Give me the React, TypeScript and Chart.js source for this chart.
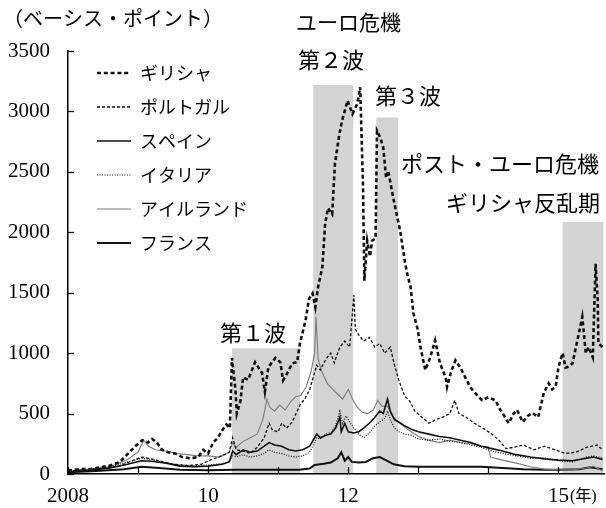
import React, { useEffect, useRef } from 'react';
import { Chart, registerables } from 'chart.js';
Chart.register(...registerables);

// ---------- DATA ----------
const seriesNames = ['ギリシャ', 'ポルトガル', 'スペイン', 'イタリア', 'アイルランド', 'フランス'];

const greeceDates = [2008.00, 2008.17, 2008.31, 2008.46, 2008.60, 2008.74, 2008.86, 2008.96, 2009.06, 2009.14, 2009.20, 2009.27, 2009.34, 2009.43, 2009.53, 2009.63, 2009.74, 2009.86, 2009.93, 2010.00, 2010.07, 2010.14, 2010.20, 2010.26, 2010.31, 2010.34, 2010.39, 2010.41, 2010.46, 2010.50, 2010.57, 2010.67, 2010.77, 2010.81, 2010.86, 2010.96, 2011.03, 2011.07, 2011.13, 2011.20, 2011.27, 2011.31, 2011.39, 2011.44, 2011.49, 2011.53, 2011.57, 2011.63, 2011.67, 2011.71, 2011.77, 2011.81, 2011.87, 2011.91, 2011.99, 2012.06, 2012.13, 2012.17, 2012.21, 2012.23, 2012.27, 2012.31, 2012.34, 2012.39, 2012.41, 2012.46, 2012.50, 2012.54, 2012.57, 2012.64, 2012.74, 2012.81, 2012.84, 2012.89, 2012.93, 2012.99, 2013.03, 2013.10, 2013.17, 2013.24, 2013.31, 2013.39, 2013.41, 2013.47, 2013.53, 2013.60, 2013.67, 2013.74, 2013.81, 2013.91, 2014.00, 2014.10, 2014.17, 2014.24, 2014.29, 2014.36, 2014.41, 2014.49, 2014.56, 2014.63, 2014.71, 2014.79, 2014.86, 2014.91, 2014.96, 2015.00, 2015.06, 2015.10, 2015.13, 2015.20, 2015.27, 2015.34, 2015.39, 2015.43, 2015.49, 2015.53, 2015.56, 2015.57, 2015.63];
const greeceValues = [30, 40, 40, 55, 70, 100, 170, 230, 280, 260, 290, 260, 200, 180, 170, 140, 130, 140, 200, 170, 260, 300, 360, 410, 380, 960, 700, 500, 600, 800, 780, 925, 835, 680, 885, 960, 925, 775, 835, 915, 925, 1080, 1270, 1450, 1495, 1380, 1550, 1710, 2070, 2200, 2150, 2570, 2800, 2920, 3090, 2980, 3065, 3200, 2400, 1600, 1930, 1800, 1930, 1950, 2840, 2780, 2700, 2450, 2510, 2290, 2015, 1750, 1660, 1545, 1330, 1200, 1050, 860, 965, 1105, 915, 800, 720, 850, 940, 880, 800, 720, 670, 610, 635, 610, 530, 470, 420, 500, 530, 430, 480, 505, 470, 670, 750, 700, 720, 885, 1000, 880, 885, 915, 1105, 1300, 1000, 1050, 965, 1740, 1440, 1080, 1050];

const portugalDates = [2008.00, 2008.25, 2008.50, 2008.75, 2008.92, 2009.05, 2009.15, 2009.30, 2009.50, 2009.70, 2009.90, 2010.05, 2010.20, 2010.30, 2010.35, 2010.40, 2010.50, 2010.60, 2010.70, 2010.80, 2010.87, 2010.92, 2011.00, 2011.05, 2011.12, 2011.20, 2011.27, 2011.32, 2011.38, 2011.45, 2011.50, 2011.55, 2011.60, 2011.68, 2011.75, 2011.80, 2011.88, 2011.95, 2012.02, 2012.08, 2012.10, 2012.15, 2012.22, 2012.30, 2012.38, 2012.45, 2012.52, 2012.60, 2012.66, 2012.72, 2012.80, 2012.88, 2012.95, 2013.05, 2013.15, 2013.25, 2013.35, 2013.45, 2013.52, 2013.58, 2013.68, 2013.80, 2013.92, 2014.05, 2014.15, 2014.25, 2014.35, 2014.50, 2014.65, 2014.80, 2014.95, 2015.10, 2015.25, 2015.40, 2015.55, 2015.63];
const portugalValues = [25, 35, 45, 70, 110, 140, 130, 110, 80, 70, 80, 120, 150, 180, 300, 200, 190, 170, 220, 300, 420, 360, 350, 420, 380, 430, 520, 580, 620, 700, 800, 900, 860, 950, 1000, 920, 1050, 1100, 1050, 1480, 1200, 1150, 1100, 1130, 1050, 1080, 1000, 1050, 900, 780, 650, 600, 520, 470, 420, 450, 470, 500, 610, 500, 470, 420, 380, 330, 280, 210, 220, 240, 200, 230, 200, 170, 180, 220, 240, 200];

const spainDates = [2008.00, 2008.30, 2008.60, 2008.85, 2009.05, 2009.20, 2009.40, 2009.60, 2009.80, 2010.00, 2010.20, 2010.30, 2010.35, 2010.40, 2010.50, 2010.60, 2010.70, 2010.80, 2010.87, 2010.95, 2011.05, 2011.15, 2011.25, 2011.35, 2011.45, 2011.55, 2011.60, 2011.68, 2011.75, 2011.82, 2011.88, 2011.90, 2011.95, 2012.00, 2012.08, 2012.15, 2012.22, 2012.30, 2012.38, 2012.45, 2012.50, 2012.56, 2012.60, 2012.66, 2012.72, 2012.80, 2012.90, 2013.00, 2013.15, 2013.30, 2013.45, 2013.60, 2013.75, 2013.90, 2014.05, 2014.20, 2014.40, 2014.60, 2014.80, 2015.00, 2015.20, 2015.40, 2015.50, 2015.63];
const spainValues = [15, 30, 50, 80, 110, 105, 90, 65, 60, 65, 80, 100, 190, 160, 200, 180, 190, 230, 260, 240, 230, 200, 190, 200, 230, 330, 300, 320, 330, 380, 470, 350, 420, 350, 340, 350, 380, 420, 470, 520, 500, 620, 520, 450, 430, 400, 370, 350, 330, 310, 300, 280, 260, 230, 210, 190, 160, 140, 125, 115, 110, 130, 140, 120];

const italyDates = [2008.00, 2008.30, 2008.60, 2008.85, 2009.05, 2009.20, 2009.40, 2009.60, 2009.80, 2010.00, 2010.20, 2010.30, 2010.35, 2010.40, 2010.50, 2010.60, 2010.70, 2010.80, 2010.87, 2010.95, 2011.05, 2011.15, 2011.25, 2011.35, 2011.45, 2011.55, 2011.60, 2011.68, 2011.75, 2011.82, 2011.88, 2011.92, 2011.97, 2012.02, 2012.08, 2012.15, 2012.22, 2012.30, 2012.38, 2012.45, 2012.52, 2012.56, 2012.60, 2012.66, 2012.72, 2012.80, 2012.90, 2013.00, 2013.15, 2013.30, 2013.45, 2013.60, 2013.75, 2013.90, 2014.05, 2014.20, 2014.40, 2014.60, 2014.80, 2015.00, 2015.20, 2015.40, 2015.50, 2015.63];
const italyValues = [25, 35, 60, 100, 130, 120, 90, 75, 70, 75, 85, 100, 150, 140, 160, 140, 150, 170, 200, 180, 170, 150, 140, 150, 180, 300, 290, 330, 340, 400, 520, 420, 480, 430, 380, 330, 300, 340, 400, 430, 460, 520, 450, 380, 350, 330, 320, 290, 280, 290, 270, 260, 240, 220, 190, 170, 150, 130, 135, 110, 100, 140, 150, 130];

const irelandDates = [2008.00, 2008.30, 2008.60, 2008.85, 2009.00, 2009.08, 2009.15, 2009.25, 2009.40, 2009.55, 2009.70, 2009.85, 2010.00, 2010.15, 2010.30, 2010.35, 2010.40, 2010.50, 2010.60, 2010.70, 2010.78, 2010.84, 2010.88, 2010.95, 2011.02, 2011.10, 2011.18, 2011.25, 2011.32, 2011.40, 2011.47, 2011.52, 2011.54, 2011.57, 2011.62, 2011.70, 2011.78, 2011.85, 2011.92, 2012.00, 2012.06, 2012.12, 2012.20, 2012.28, 2012.36, 2012.42, 2012.48, 2012.56, 2012.64, 2012.72, 2012.80, 2012.90, 2013.00, 2013.15, 2013.30, 2013.45, 2013.60, 2013.75, 2013.90, 2014.00, 2014.03, 2014.20, 2014.40, 2014.60, 2014.80, 2015.00, 2015.20, 2015.40, 2015.50, 2015.63];
const irelandValues = [25, 40, 60, 120, 180, 280, 230, 200, 190, 170, 160, 150, 150, 140, 180, 260, 220, 270, 300, 330, 450, 620, 550, 520, 570, 530, 600, 640, 650, 720, 850, 1000, 1300, 950, 850, 750, 700, 660, 620, 700, 620, 560, 510, 500, 530, 610, 560, 560, 470, 430, 390, 350, 310, 280, 260, 280, 260, 250, 230, 225, 140, 115, 90, 60, 40, 35, 35, 50, 65, 25];

const franceDates = [2008.00, 2008.40, 2008.80, 2009.05, 2009.30, 2009.60, 2010.00, 2010.40, 2010.90, 2011.30, 2011.45, 2011.52, 2011.65, 2011.75, 2011.85, 2011.90, 2011.95, 2012.00, 2012.05, 2012.15, 2012.25, 2012.35, 2012.45, 2012.55, 2012.65, 2012.80, 2013.00, 2013.30, 2013.60, 2013.90, 2014.20, 2014.50, 2014.80, 2015.00, 2015.30, 2015.45, 2015.63];
const franceValues = [15, 25, 40, 60, 50, 35, 30, 35, 35, 35, 45, 75, 85, 95, 130, 180, 110, 140, 100, 95, 100, 130, 140, 110, 80, 65, 60, 60, 60, 60, 50, 40, 35, 35, 40, 55, 40];

const yTicks = [0, 500, 1000, 1500, 2000, 2500, 3000, 3500];
const xTickYears = [2008, 2009, 2010, 2011, 2012, 2013, 2014, 2015];
const xTickLabels = ['2008', '', '10', '', '12', '', '', '15'];
const xUnitLabel = '(年)';
const yUnitLabel = '（ベーシス・ポイント）';

// shaded periods: start year, end year, height (bp)
const shadeStarts = [2010.34, 2011.50, 2012.40, 2015.06];
const shadeEnds = [2011.31, 2012.07, 2012.71, 2015.64];
const shadeTops = [1040, 3220, 2950, 2085];

const titleText = 'ユーロ危機';
const waveTexts = ['第１波', '第２波', '第３波'];
const postText = 'ポスト・ユーロ危機';
const rebelText = 'ギリシャ反乱期';

const toXY = (d: number[], v: number[]) => d.map((x, i) => ({ x, y: v[i] }));

const CJK = '"Noto Sans CJK JP", sans-serif';
const SERIF = '"Liberation Serif", "DejaVu Serif", serif';

const decorPlugin = {
  id: 'decor',
  beforeDatasetsDraw(chart: any) {
    const { ctx, scales } = chart;
    const x = scales.x, y = scales.y;
    ctx.save();
    ctx.fillStyle = '#d3d3d3';
    shadeStarts.forEach((s, i) => {
      const x0 = x.getPixelForValue(s);
      const x1 = x.getPixelForValue(shadeEnds[i]);
      const yt = y.getPixelForValue(shadeTops[i]);
      const yb = y.getPixelForValue(0) - 1;
      ctx.fillRect(x0, yt, x1 - x0, yb - yt);
    });
    ctx.restore();
  },
  afterDraw(chart: any) {
    const { ctx, scales, chartArea } = chart;
    const x = scales.x, y = scales.y;
    ctx.save();
    // inward tick marks
    ctx.strokeStyle = '#000';
    ctx.lineWidth = 1.3;
    ctx.setLineDash([]);
    yTicks.forEach((v) => {
      const py = Math.round(y.getPixelForValue(v)) + 0.5;
      ctx.beginPath();
      ctx.moveTo(chartArea.left, py);
      ctx.lineTo(chartArea.left + 6, py);
      ctx.stroke();
    });
    xTickYears.forEach((v) => {
      const px = Math.round(x.getPixelForValue(v)) + 0.5;
      ctx.beginPath();
      ctx.moveTo(px, chartArea.bottom);
      ctx.lineTo(px, chartArea.bottom - 7);
      ctx.stroke();
    });
    // x labels
    ctx.fillStyle = '#000';
    ctx.font = `21px ${SERIF}`;
    ctx.textAlign = 'center';
    ctx.textBaseline = 'middle';
    let lastRight = 0;
    xTickYears.forEach((v, i) => {
      const lab = xTickLabels[i];
      if (!lab) return;
      const px = x.getPixelForValue(v);
      ctx.fillText(lab, px, 496);
      lastRight = px + ctx.measureText(lab).width / 2;
    });
    ctx.font = `16px ${SERIF}, ${CJK}`;
    ctx.textAlign = 'left';
    ctx.fillText(xUnitLabel, lastRight + 1, 497);

    // y unit
    ctx.font = `20px ${CJK}`;
    ctx.textAlign = 'left';
    ctx.fillText(yUnitLabel, 3, 18);

    // legend
    const ds = chart.data.datasets;
    ds.forEach((d: any, i: number) => {
      const ly = 73 + i * 34;
      ctx.save();
      ctx.strokeStyle = d.borderColor;
      ctx.lineWidth = d.borderWidth;
      ctx.setLineDash(d.borderDash || []);
      ctx.beginPath();
      ctx.moveTo(97, ly);
      ctx.lineTo(131, ly);
      ctx.stroke();
      ctx.restore();
      ctx.font = `18px ${CJK}`;
      ctx.fillStyle = '#000';
      ctx.textAlign = 'left';
      ctx.textBaseline = 'middle';
      ctx.fillText(d.label, 140, ly);
    });

    // annotations
    ctx.fillStyle = '#000';
    ctx.textAlign = 'left';
    ctx.textBaseline = 'middle';
    ctx.font = `21px ${CJK}`;
    ctx.fillText(titleText, 296, 22);
    ctx.font = `22px ${CJK}`;
    ctx.fillText(waveTexts[0], 220, 333);
    ctx.fillText(waveTexts[1], 298, 60);
    ctx.fillText(waveTexts[2], 375, 96);
    ctx.fillText(postText, 401, 164);
    ctx.fillText(rebelText, 446, 203);
    ctx.restore();
  },
};

export default function App() {
  const ref = useRef<HTMLCanvasElement | null>(null);
  useEffect(() => {
    if (!ref.current) return;
    const chart = new Chart(ref.current, {
      type: 'line',
      data: {
        datasets: [
          { label: seriesNames[0], data: toXY(greeceDates, greeceValues), borderColor: '#111', borderWidth: 2.6, borderDash: [4, 2.8], pointRadius: 0, tension: 0, order: 1 },
          { label: seriesNames[1], data: toXY(portugalDates, portugalValues), borderColor: '#111', borderWidth: 1.3, borderDash: [3, 2], pointRadius: 0, tension: 0, order: 2 },
          { label: seriesNames[2], data: toXY(spainDates, spainValues), borderColor: '#111', borderWidth: 1.6, pointRadius: 0, tension: 0, order: 3 },
          { label: seriesNames[3], data: toXY(italyDates, italyValues), borderColor: '#111', borderWidth: 1.2, borderDash: [1, 1.5], pointRadius: 0, tension: 0, order: 4 },
          { label: seriesNames[4], data: toXY(irelandDates, irelandValues), borderColor: '#7a7a7a', borderWidth: 1.1, pointRadius: 0, tension: 0, order: 5 },
          { label: seriesNames[5], data: toXY(franceDates, franceValues), borderColor: '#111', borderWidth: 2, pointRadius: 0, tension: 0, order: 6 },
        ],
      } as any,
      options: {
        responsive: false,
        animation: false,
        devicePixelRatio: 1,
        layout: { padding: { top: 51, right: 2, left: 0, bottom: 0 } },
        plugins: { legend: { display: false }, tooltip: { enabled: false } },
        scales: {
          x: {
            type: 'linear',
            min: 2008,
            max: 2015.65,
            grid: { display: false },
            border: { display: true, color: '#000', width: 1.5 },
            ticks: { display: false },
            afterBuildTicks: (s: any) => { s.ticks = xTickYears.map((v) => ({ value: v })); },
            afterFit: (s: any) => { s.height = 34; },
          },
          y: {
            type: 'linear',
            min: 0,
            max: 3500,
            grid: { display: false },
            border: { display: true, color: '#000', width: 1.5 },
            ticks: { color: '#000', font: { family: 'Liberation Serif', size: 21 }, padding: 10, callback: (v: any) => String(v) },
            afterBuildTicks: (s: any) => { s.ticks = yTicks.map((v) => ({ value: v })); },
            afterFit: (s: any) => { s.width = 68; },
          },
        },
      } as any,
      plugins: [decorPlugin],
    });
    return () => chart.destroy();
  }, []);
  return (
    <div style={{ position: 'fixed', left: 0, top: 0, width: 606, height: 508, background: '#fff' }}>
      <canvas ref={ref} width={606} height={508} />
    </div>
  );
}
